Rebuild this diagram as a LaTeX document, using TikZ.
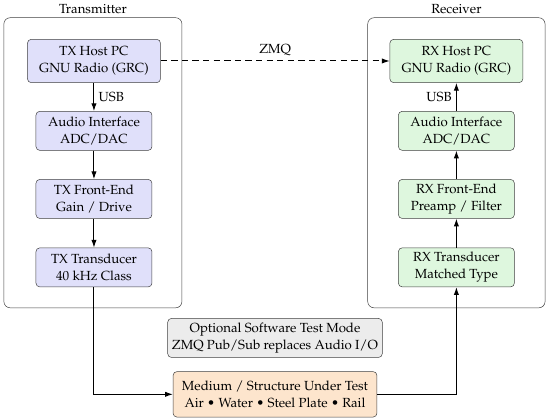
\documentclass[tikz,border=0pt]{standalone}
\usepackage[T1]{fontenc}
\usepackage{mathpazo}
\usepackage{tikz}
\usetikzlibrary{arrows.meta,positioning,calc}
\definecolor{txFill}{RGB}{224,224,250}
\definecolor{rxFill}{RGB}{222,247,222}
\definecolor{optFill}{RGB}{236,236,236}
\definecolor{medFill}{RGB}{253,229,205}

\tikzset{
    every node/.style={font=\fontsize{10.6}{13.4}\selectfont},
    blk/.style={draw=black!75, rounded corners=3pt, align=center, minimum width=3.27cm, minimum height=1.1cm, inner xsep=0.33cm},
    txblk/.style={blk, fill=txFill},
    rxblk/.style={blk, fill=rxFill},
    frame/.style={draw=black!75, rounded corners=5pt},
    sig/.style={-{Latex[length=2.2mm,width=1.5mm]}, thick}
}

\begin{document}
\begin{tikzpicture}
    \useasboundingbox (0,0) rectangle (15.51,11.84);

    % enclosures
    \draw[frame] (0.11,3.16) rectangle (5.13,11.34);
    \draw[frame] (10.37,3.16) rectangle (15.37,11.34);
    \node[anchor=south] (txlabel) at (2.62,11.32) {Transmitter};
    \node[anchor=south] (rxlabel) at (12.87,11.32) {Receiver};

    % transmitter chain
    \node[txblk, minimum height=1.22cm] (txhost) at (2.65,10.12) {TX Host PC\\GNU Radio (GRC)};
    \node[txblk] (txaudio) at (2.65,8.15) {Audio Interface\\ADC/DAC};
    \node[txblk] (txfront) at (2.65,6.23) {TX Front-End\\Gain / Drive};
    \node[txblk] (txtrans) at (2.65,4.30) {TX Transducer\\40 kHz Class};

    % receiver chain
    \node[rxblk, minimum height=1.22cm] (rxhost) at (12.87,10.12) {RX Host PC\\GNU Radio (GRC)};
    \node[rxblk] (rxaudio) at (12.87,8.15) {Audio Interface\\ADC/DAC};
    \node[rxblk] (rxfront) at (12.87,6.23) {RX Front-End\\Preamp / Filter};
    \node[rxblk] (rxtrans) at (12.87,4.30) {RX Transducer\\Matched Type};

    % shared parts
    \node[blk, fill=optFill, inner xsep=0.12cm] (optmode) at (7.755,2.31) {Optional Software Test Mode\\ZMQ Pub/Sub replaces Audio I/O};
    \node[blk, fill=medFill, minimum height=1.28cm, inner xsep=0.25cm] (medium) at (7.755,0.72) {Medium / Structure Under Test\\Air \textbullet{} Water \textbullet{} Steel Plate \textbullet{} Rail};

    % links
    \draw[sig] (txhost) -- node[right] {USB} (txaudio);
    \draw[sig] (txaudio) -- (txfront);
    \draw[sig] (txfront) -- (txtrans);
    \draw[sig] (rxaudio) -- node[left] {USB} (rxhost);
    \draw[sig] (rxfront) -- (rxaudio);
    \draw[sig] (rxtrans) -- (rxfront);
    \draw[sig, dash pattern=on 5pt off 3.5pt] (txhost) -- node[above] {ZMQ} (rxhost);
    \draw[sig] (txtrans.south) |- (medium.west);
    \draw[sig] (medium.east) -| (rxtrans.south);
\end{tikzpicture}
\end{document}
